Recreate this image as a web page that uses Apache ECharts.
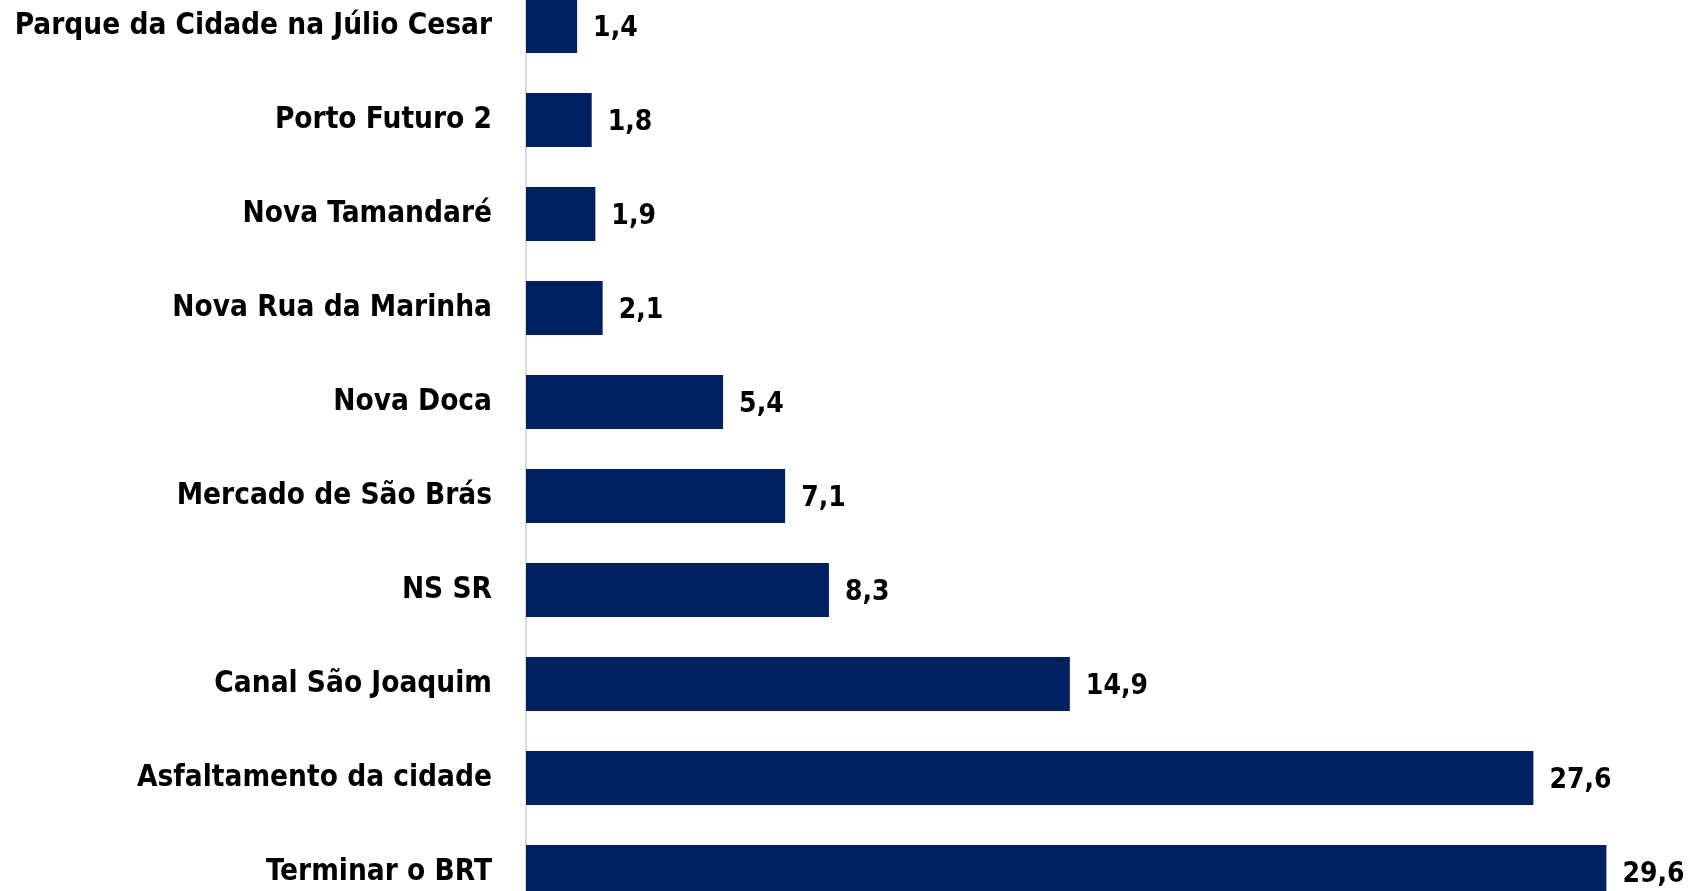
<!DOCTYPE html>
<html>
<head>
<meta charset="utf-8">
<script src="https://cdn.jsdelivr.net/npm/echarts@6/dist/echarts.min.js"></script>
<style>
html,body{margin:0;padding:0;background:#fff;overflow:hidden;width:1696px;height:891px;}
#chart{position:absolute;left:0;top:-21px;width:1696px;height:940px;}
</style>
</head>
<body>
<div id="chart"></div>
<script>
var categories = ['Parque da Cidade na Júlio Cesar','Porto Futuro 2','Nova Tamandaré','Nova Rua da Marinha','Nova Doca','Mercado de São Brás','NS SR','Canal São Joaquim','Asfaltamento da cidade','Terminar o BRT'];
var values = [1.4,1.8,1.9,2.1,5.4,7.1,8.3,14.9,27.6,29.6];

var FONT = '"Liberation Sans Narrow","Arial Narrow","DejaVu Sans Condensed",sans-serif';
var chart = echarts.init(document.getElementById('chart'));
chart.setOption({
  animation:false,
  backgroundColor:'#ffffff',
  grid:{left:526, top:0, width:1168, height:940, containLabel:false},
  xAxis:{type:'value', min:0, max:32, show:false},
  yAxis:{type:'category', data:categories, inverse:true,
    axisLine:{show:true, lineStyle:{color:'#d9d9d9', width:2}},
    axisTick:{show:false},
    axisLabel:{margin:34, fontFamily:FONT, fontWeight:'bold', fontSize:29.5, color:'#000'}
  },
  series:[{type:'bar', data:values, barCategoryGap:'42.5%',
    itemStyle:{color:'#002060'},
    label:{show:true, position:'right', distance:16, offset:[0,3], fontFamily:FONT, fontWeight:'bold', fontSize:28, color:'#000',
      formatter:function(p){return String(p.value.toFixed(1)).replace('.',',');}}
  }]
});
</script>
</body>
</html>
